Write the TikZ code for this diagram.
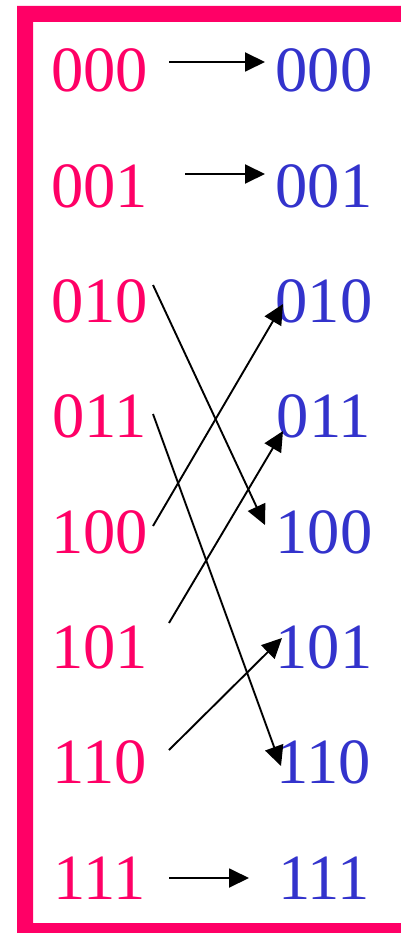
\documentclass[tikz,border=0pt]{standalone}
\usepackage{fontspec}
\setmainfont{Liberation Serif}
\usetikzlibrary{arrows.meta}
\definecolor{framered}{HTML}{FF0066}
\definecolor{srcred}{HTML}{FF0066}
\definecolor{dstblue}{HTML}{3333CC}
\tikzset{
  src/.style={text=srcred, anchor=base, inner sep=0pt, font=\fontsize{64.5}{70}\selectfont},
  dst/.style={text=dstblue, anchor=base, inner sep=0pt, font=\fontsize{64.5}{70}\selectfont},
  conn/.style={line width=1.9pt, -{Triangle[length=20pt,width=19pt]}}
}
\begin{document}
\begin{tikzpicture}[x=1pt,y=-1pt]
\useasboundingbox (0,0) rectangle (401,933);
\fill[framered, even odd rule] (17,6) rectangle (430,950) (33,22) rectangle (430,923);
% labels
\foreach \lab [count=\i from 0] in {000,001,010,011,100,101,110,111}{
  \node[src] (s\lab) at (99.5,{92+115.3*\i}) {\lab};
  \node[dst] (d\lab) at (324,{92+115.3*\i}) {\lab};
}
% connector end points
\coordinate (a0) at (169,62);  \coordinate (b0) at (265,62);
\coordinate (a1) at (185,174); \coordinate (b1) at (265,174);
\coordinate (a2) at (153,285); \coordinate (b2) at (265,525);
\coordinate (a3) at (153,414); \coordinate (b3) at (281,766);
\coordinate (a4) at (153,526); \coordinate (b4) at (283,304);
\coordinate (a5) at (169,623); \coordinate (b5) at (283,431);
\coordinate (a6) at (169,750); \coordinate (b6) at (282,638);
\coordinate (a7) at (169,878); \coordinate (b7) at (249,878);
\foreach \k in {0,...,7}{ \draw[conn] (a\k) -- (b\k); }
\end{tikzpicture}
\end{document}
